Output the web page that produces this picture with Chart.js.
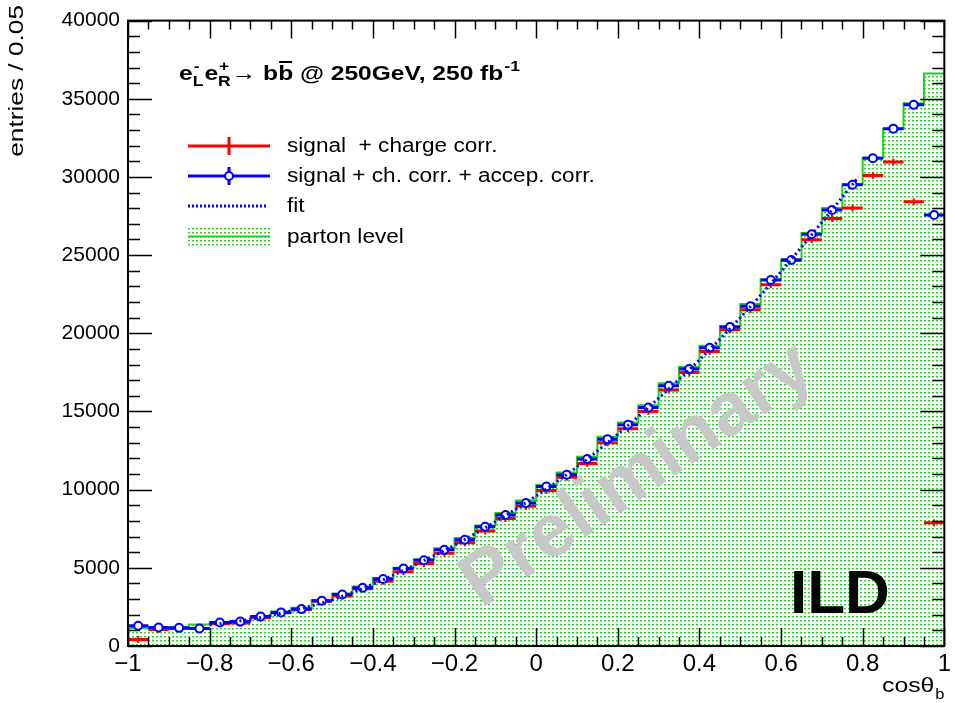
<!DOCTYPE html>
<html>
<head>
<meta charset="utf-8">
<script src="https://cdn.jsdelivr.net/npm/chart.js@4.4.0/dist/chart.umd.min.js"></script>
<style>
  html, body { margin: 0; padding: 0; background: #fff; }
  canvas { display: block; }
</style>
</head>
<body>
<canvas id="histo" width="955" height="703"></canvas>
<script>
// bin centres of cos(theta_b), width 0.05
const binCenters = [
  -0.975, -0.925, -0.875, -0.825, -0.775, -0.725, -0.675, -0.625, -0.575, -0.525,
  -0.475, -0.425, -0.375, -0.325, -0.275, -0.225, -0.175, -0.125, -0.075, -0.025,
   0.025,  0.075,  0.125,  0.175,  0.225,  0.275,  0.325,  0.375,  0.425,  0.475,
   0.525,  0.575,  0.625,  0.675,  0.725,  0.775,  0.825,  0.875,  0.925,  0.975
];
const binWidth = 0.05;

const partonLevel = [
  1150, 1080, 1180, 1370, 1520, 1620, 1900, 2200, 2450, 2950,
  3350, 3800, 4350, 5000, 5550, 6250, 6900, 7700, 8500, 9300,
  10300, 11100, 12100, 13380, 14300, 15400, 16800, 17850, 19200, 20460,
  21870, 23450, 24720, 26410, 28020, 29540, 31230, 33090, 34720, 36620
];
const signalChargeCorr = [
  420, 1060, 1120, 1120, 1440, 1470, 1800, 2130, 2330, 2870,
  3190, 3660, 4140, 4750, 5280, 5940, 6610, 7350, 8160, 8940,
  9950, 10800, 11680, 13000, 13900, 15000, 16380, 17500, 18830, 20220,
  21510, 23100, 24680, 25990, 27340, 28020, 30090, 30950, 28420, 7880
];
const signalAccepCorr = [
  1290, 1180, 1160, 1120, 1500, 1560, 1880, 2150, 2360, 2900,
  3290, 3730, 4290, 4950, 5480, 6150, 6800, 7620, 8380, 9150,
  10200, 10950, 11960, 13230, 14150, 15250, 16640, 17710, 19080, 20410,
  21730, 23410, 24690, 26330, 27890, 29500, 31200, 33090, 34610, 27570
];
// fit curve
const fitX = [-0.8, -0.7, -0.6, -0.5, -0.4, -0.3, -0.2, -0.1, 0.0, 0.1, 0.2, 0.3, 0.4, 0.5, 0.6, 0.7, 0.79];
const fitY = [1350, 1700, 2250, 2950, 3950, 5150, 6450, 7950, 9600, 11450, 13550, 15850, 18300, 21000, 23950, 27100, 30000];

const xTickValues = [-1, -0.8, -0.6, -0.4, -0.2, 0, 0.2, 0.4, 0.6, 0.8, 1];
const xTickLabels = ['\u22121', '\u22120.8', '\u22120.6', '\u22120.4', '\u22120.2', '0', '0.2', '0.4', '0.6', '0.8', '1'];

const FONT = '"Liberation Sans", Arial, Helvetica, sans-serif';
const RED = '#ff0000';
const BLUE = '#0000ff';
const GREEN = '#22cc22';

// dotted fill like ROOT's fill style
function makeDots() {
  const c = document.createElement('canvas');
  c.width = 4; c.height = 4;
  const g = c.getContext('2d');
  g.fillStyle = '#ffffff';
  g.fillRect(0, 0, 4, 4);
  g.fillStyle = '#33cc33';
  g.fillRect(0, 0, 2, 1);
  g.fillStyle = '#aae6aa';
  g.fillRect(0, 1, 2, 1);
  return g.createPattern(c, 'repeat');
}
const dots = makeDots();

// step histogram: one point per lower edge, plus the closing edge
const partonSteps = binCenters.map((c, i) => ({ x: c - binWidth / 2, y: partonLevel[i] }));
partonSteps.push({ x: 1, y: partonLevel[partonLevel.length - 1] });

const toPoints = vals => binCenters.map((c, i) => ({ x: c, y: vals[i] }));
const halfBin = ctx => {
  const xs = ctx.chart.scales.x;
  return (xs.getPixelForValue(binWidth) - xs.getPixelForValue(0)) / 2;
};

// the original texts are a bit wider than the installed fonts
function wideText(g, s, x, y, sx) {
  g.save();
  g.translate(x, y);
  g.scale(sx, 1);
  g.fillText(s, 0, 0);
  g.restore();
  return g.measureText(s).width * sx;
}

// inward ticks, frame, legend, labels
const rootStyle = {
  id: 'rootStyle',
  afterDatasetDraw(chart, args) {
    if (args.index !== 5) return;
    const g = chart.ctx;
    g.save();
    g.translate(638, 476);
    g.rotate(-34.5 * Math.PI / 180);
    g.fillStyle = '#c8c8c8';
    g.font = 'bold 75px ' + FONT;
    g.textAlign = 'center';
    g.textBaseline = 'middle';
    g.fillText('Preliminary', 0, 0);
    g.restore();
  },
  afterDraw(chart) {
    const g = chart.ctx;
    const a = chart.chartArea;
    const xs = chart.scales.x, ys = chart.scales.y;
    g.save();
    g.strokeStyle = '#000';
    g.lineWidth = 1.5;
    g.beginPath();
    for (let i = 0; i <= 40; i++) {
      const v = -1 + i * 0.05;
      const px = Math.round(xs.getPixelForValue(v)) + 0.5;
      const len = i % 4 === 0 ? 18 : 9;
      g.moveTo(px, a.bottom); g.lineTo(px, a.bottom - len);
      g.moveTo(px, a.top); g.lineTo(px, a.top + len);
    }
    for (let i = 0; i <= 40; i++) {
      const v = i * 1000;
      const py = Math.round(ys.getPixelForValue(v)) + 0.5;
      const len = i % 5 === 0 ? 24 : 12;
      g.moveTo(a.left, py); g.lineTo(a.left + len, py);
      g.moveTo(a.right, py); g.lineTo(a.right - len, py);
    }
    g.stroke();
    g.lineWidth = 2;
    g.strokeRect(a.left, a.top, a.right - a.left, a.bottom - a.top);

    // axis titles
    g.fillStyle = '#000';
    g.textBaseline = 'alphabetic';
    g.font = '21px ' + FONT;
    g.save();
    g.translate(23, 5);
    g.rotate(-Math.PI / 2);
    g.textAlign = 'right';
    g.scale(1.25, 1);
    g.fillText('entries / 0.05', 0, 0);
    g.restore();
    g.textAlign = 'left';
    g.font = '21px ' + FONT;
    const cw = wideText(g, 'cos\u03b8', 882, 692, 1.18);
    g.font = '15px ' + FONT;
    wideText(g, 'b', 882 + cw + 1, 699, 1.1);

    // process label
    let x = 179;
    const base = 80, sx = 1.17;
    const big = 'bold 21px ' + FONT, small = 'bold 15px ' + FONT;
    const subsup = (sub, sup) => {
      g.font = small;
      const w1 = wideText(g, sub, x, base + 6, sx);
      const w2 = wideText(g, sup, x + 1, base - 9, sx);
      x += Math.max(w1, w2 + 1) + 1;
    };
    const word = s => { g.font = big; x += wideText(g, s, x, base, sx); };
    word('e'); subsup('L', '-');
    word('e'); subsup('R', '+');
    word('\u2192 b');
    const bx = x;
    word('b');
    g.lineWidth = 2;
    g.beginPath(); g.moveTo(bx + 1, base - 18); g.lineTo(x - 1, base - 18); g.stroke();
    word(' @ 250GeV, 250 fb');
    g.font = small;
    wideText(g, '-1', x + 1, base - 9, sx);

    // ILD tag
    g.font = 'bold 62px ' + FONT;
    g.fillText('ILD', 790, 613);

    // legend
    const lx0 = 188, lx1 = 270, mid = 229, tx = 287;
    g.font = '20px ' + FONT;
    wideText(g, 'signal  + charge corr.', tx, 152, 1.13);
    wideText(g, 'signal + ch. corr. + accep. corr.', tx, 182, 1.13);
    wideText(g, 'fit', tx, 212, 1.13);
    wideText(g, 'parton level', tx, 243, 1.13);

    g.lineWidth = 3;
    g.strokeStyle = RED;
    g.beginPath(); g.moveTo(lx0, 146); g.lineTo(lx1, 146);
    g.moveTo(mid, 137); g.lineTo(mid, 155); g.stroke();

    g.strokeStyle = BLUE;
    g.beginPath(); g.moveTo(lx0, 176); g.lineTo(lx1, 176);
    g.moveTo(mid, 167); g.lineTo(mid, 185); g.stroke();
    g.lineWidth = 2;
    g.fillStyle = '#fff';
    g.beginPath(); g.arc(mid, 176, 4, 0, Math.PI * 2); g.fill(); g.stroke();

    g.lineWidth = 3;
    g.setLineDash([2, 2]);
    g.beginPath(); g.moveTo(lx0, 206); g.lineTo(lx1 - 2, 206); g.stroke();
    g.setLineDash([]);

    g.fillStyle = dots;
    g.fillRect(lx0, 226, lx1 - lx0, 21);
    g.strokeStyle = GREEN;
    g.lineWidth = 2;
    g.beginPath(); g.moveTo(lx0, 236.5); g.lineTo(lx1, 236.5); g.stroke();
    g.restore();
  }
};

new Chart(document.getElementById('histo'), {
  type: 'line',
  data: {
    datasets: [
      {
        label: 'fit',
        data: fitX.map((v, i) => ({ x: v, y: fitY[i] })),
        borderColor: BLUE, borderWidth: 3, borderDash: [2, 3],
        pointRadius: 0, tension: 0.4, cubicInterpolationMode: 'monotone', fill: false
      },
      {
        label: 'signal + ch. corr. + accep. corr.',
        data: toPoints(signalAccepCorr), showLine: false,
        pointStyle: 'circle', pointRadius: 4, borderWidth: 2,
        pointBorderColor: BLUE, pointBackgroundColor: '#fff'
      },
      {
        label: 'accep bars',
        data: toPoints(signalAccepCorr), showLine: false,
        pointStyle: 'line', pointRadius: halfBin, pointBorderWidth: 3, pointBorderColor: BLUE
      },
      {
        label: 'charge err',
        data: toPoints(signalChargeCorr), showLine: false,
        pointStyle: 'line', pointRotation: 90, pointRadius: 3.5, pointBorderWidth: 2, pointBorderColor: RED
      },
      {
        label: 'signal  + charge corr.',
        data: toPoints(signalChargeCorr), showLine: false,
        pointStyle: 'line', pointRadius: halfBin, pointBorderWidth: 3, pointBorderColor: RED
      },
      {
        label: 'parton level',
        data: partonSteps, stepped: 'before',
        borderColor: GREEN, borderWidth: 2, pointRadius: 0,
        backgroundColor: dots, fill: 'origin'
      }
    ]
  },
  options: {
    responsive: false,
    animation: false,
    events: [],
    layout: { padding: { top: 15, right: 10, left: 0, bottom: 0 } },
    plugins: { legend: { display: false }, tooltip: { enabled: false } },
    scales: {
      x: {
        type: 'linear', min: -1, max: 1,
        afterFit(s) { s.height = 57; },
        afterBuildTicks(s) { s.ticks = xTickValues.map(v => ({ value: v })); },
        ticks: {
          autoSkip: false, maxRotation: 0, padding: 4, color: '#000',
          font: { family: FONT, size: 24 },
          callback: (v, i) => xTickLabels[i]
        },
        grid: { display: false, drawTicks: false }, border: { display: false }
      },
      y: {
        min: 0, max: 40000,
        afterFit(s) { s.width = 128; },
        ticks: {
          stepSize: 5000, padding: 8, color: '#000',
          font: { family: FONT, size: 21 },
          callback: v => String(v)
        },
        grid: { display: false, drawTicks: false }, border: { display: false }
      }
    }
  },
  plugins: [rootStyle]
});
</script>
</body>
</html>
